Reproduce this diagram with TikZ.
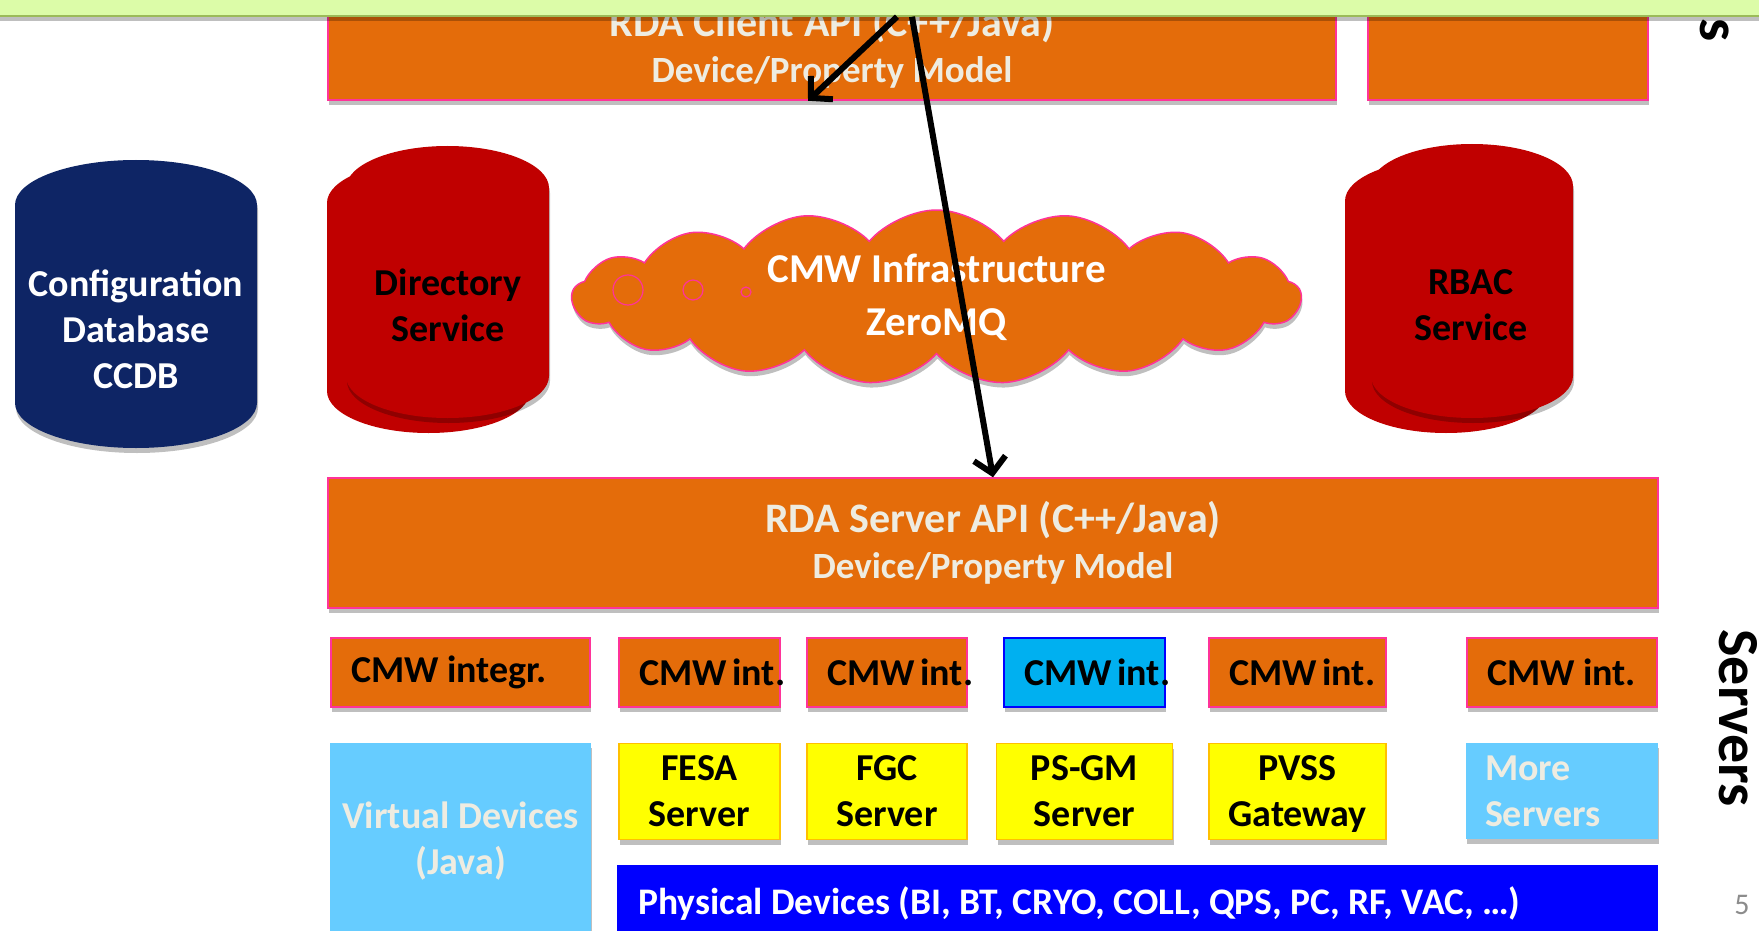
\documentclass[tikz,border=0pt]{standalone}
\usepackage{fontspec}
\setmainfont{Carlito}
\usetikzlibrary{positioning,arrows.meta,shapes.symbols,shadows}

\definecolor{cmworange}{HTML}{E46C0A}
\definecolor{cmwpink}{HTML}{FF3399}
\definecolor{cmwcream}{HTML}{EEECE1}
\definecolor{dbnavy}{HTML}{0E2565}
\definecolor{svcred}{HTML}{C00000}
\definecolor{intblue}{HTML}{00B0F0}
\definecolor{srvyellow}{HTML}{FFFF00}
\definecolor{srvborder}{HTML}{FFC000}
\definecolor{virtblue}{HTML}{66CCFF}
\definecolor{physblue}{HTML}{0000FF}
\definecolor{bandgreen}{HTML}{DCFCA8}
\definecolor{bandedge}{HTML}{9BBB59}
\definecolor{pagegrey}{HTML}{8C8C8C}

% drum: fill style, left, top, width, height, cap radius
\newcommand{\drum}[6]{%
  \fill[#1] (#2,#3+#6) arc[start angle=180, end angle=360, x radius=#4/2, y radius=#6]
    -- (#2+#4,#3+#5-#6) arc[start angle=0, end angle=180, x radius=#4/2, y radius=#6] -- cycle;}

\begin{document}
\begin{tikzpicture}[
    x=1pt, y=-1pt,
    every node/.style={inner sep=0pt, font=\fontsize{38}{46}\selectfont\bfseries},
    boxshadow/.style={drop shadow={shadow xshift=1pt, shadow yshift=-5pt, fill=black, opacity=0.25}},
    apibox/.style={rectangle, fill=cmworange, draw=cmwpink, line width=1.5pt, text=cmwcream, align=center, boxshadow},
    intbox/.style={rectangle, fill=cmworange, draw=cmwpink, line width=1.5pt, minimum height=69pt, inner xsep=20pt, text width=#1, align=flush left, boxshadow},
    srvbox/.style={rectangle, fill=srvyellow, draw=srvborder, line width=1.5pt, minimum width=#1, minimum height=96pt, text depth=0pt, align=center, boxshadow},
    virtbox/.style={rectangle, fill=virtblue, text=cmwcream, boxshadow},
    physbox/.style={rectangle, fill=physblue, text=white},
    bubble/.style={circle, draw=cmwpink, line width=1.2pt},
    sidelabel/.style={rotate=-90, anchor=base, font=\fontsize{58}{60}\selectfont\bfseries},
    flow/.style={draw, line width=6pt, -{Straight Barb[length=15pt, width=32pt]}}
]
\path[use as bounding box, fill=white] (0,0) rectangle (1759,931);

\node[apibox, minimum width=1008pt, minimum height=106pt] (client) at (832,47)
    {{\fontsize{42}{48}\selectfont RDA Client API (C++/Java)}\\{\fontsize{37}{48}\selectfont Device/Property Model}};
\node[apibox, minimum width=280pt, minimum height=106pt] (clientr) at (1508,47) {};
\node[sidelabel] (clilabel) at (1700,30) {s};

\drum{dbnavy, boxshadow}{15}{160}{242}{288}{45}
\node[text=white, align=center] (ccdb) at (136,329) {Configuration\\Database\\CCDB};

\drum{svcred}{327}{161}{203}{272}{42}
\drum{svcred, boxshadow}{346}{146}{203}{272}{42}
\node[align=center] (dir) at (448,305.5) {Directory\\Service};

\drum{svcred}{1345}{159}{202}{274}{42}
\drum{svcred, boxshadow}{1371}{144}{202}{274}{42}
\node[align=center] (rbac) at (1471,305.5) {RBAC\\Service};

\node[cloud, cloud puffs=17, cloud puff arc=100, aspect=4.1, fill=cmworange, draw=cmwpink, line width=1.5pt,
    minimum width=729pt, minimum height=174pt, text=white, align=center,
    font=\fontsize{41}{53}\selectfont\bfseries, boxshadow] (infra) at (936.5,297) {CMW Infrastructure\\ZeroMQ};
\node[bubble, minimum size=30pt] (bub1) at (628,290) {};
\node[bubble, minimum size=20pt] (bub2) at (693,290) {};
\node[bubble, minimum size=10pt] (bub3) at (746,292) {};

\node[apibox, minimum width=1330pt, minimum height=130pt] (api) at (993,543)
    {{\fontsize{42}{48}\selectfont RDA Server API (C++/Java)}\\{\fontsize{37}{48}\selectfont Device/Property Model}};

\node[intbox=219pt] (int0) at (460.5,672.5) {CMW~integr.};
\node[intbox=121pt] (int1) at (699.5,672.5) {CMW~int.};
\node[intbox=120pt] (int2) at (887,672.5) {CMW~int.};
\node[intbox=121pt, fill=intblue, draw=physblue] (int3) at (1084.5,672.5) {CMW~int.};
\node[intbox=137pt] (int4) at (1297.5,672.5) {CMW~int.};
\node[intbox=150pt] (int5) at (1562,672.5) {CMW~int.};

\node[virtbox, minimum width=261pt, minimum height=196pt, align=center, below=35pt of int0] (virt) {Virtual Devices\\(Java)};
\node[srvbox=161pt, below=35pt of int1] (fesa) {FESA\\Server};
\node[srvbox=160pt, below=35pt of int2] (fgc) {FGC\\Server};
\node[srvbox=176pt, below=35pt of int3] (psgm) {PS-GM\\Server};
\node[srvbox=177pt, below=35pt of int4] (pvss) {PVSS\\Gateway};
\node[virtbox, minimum height=96pt, inner xsep=19pt, text width=154pt, align=flush left, below=35pt of int5] (more) {More\\Servers};
\node[physbox, anchor=north west, minimum height=76pt, inner xsep=21pt, text width=999pt, align=flush left,
    font=\fontsize{37.5}{44}\selectfont\bfseries] (phys)
    at ([xshift=-1pt, yshift=-25pt]fesa.south west) {Physical Devices (BI, BT, CRYO, COLL, QPS, PC, RF, VAC, …)};

\node[sidelabel] (srvlabel) at (1719,718) {Servers};
\node[text=pagegrey, font=\fontsize{30}{36}\selectfont] (pagenum) at (1742,905) {5};

\node[fill=bandgreen, draw=bandedge, line width=1.5pt, minimum width=1800pt, minimum height=32pt, boxshadow] (band) at (879.5,0) {};

\draw[flow] ([xshift=17.5pt]band.south) -- ([xshift=-24pt]client.south);
\draw[flow] ([xshift=32.5pt]band.south) -- (api.north);
\end{tikzpicture}
\end{document}
